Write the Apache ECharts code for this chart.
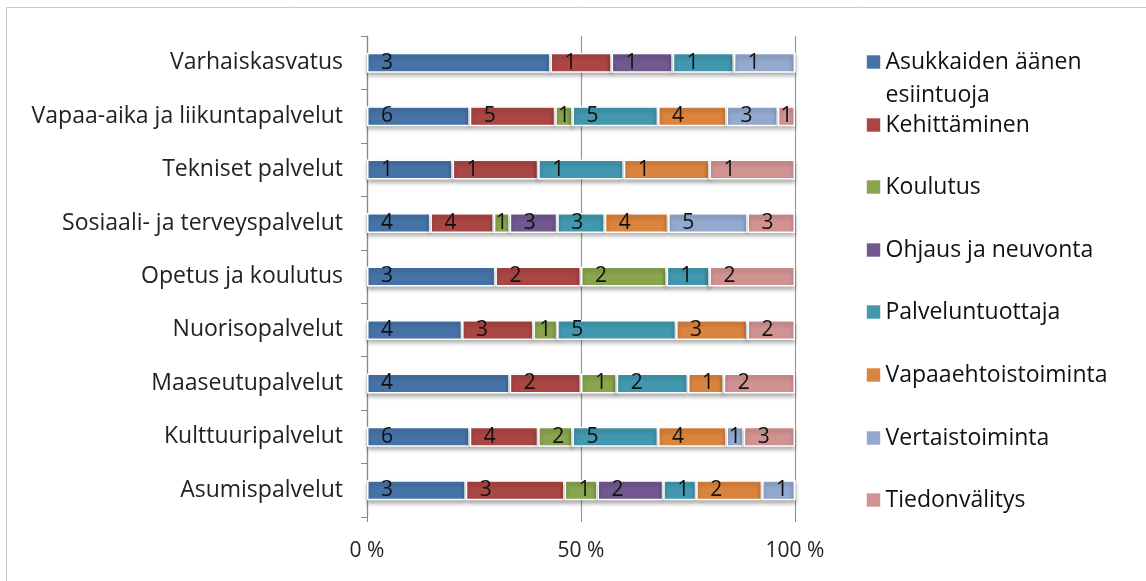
<!DOCTYPE html>
<html>
<head>
<meta charset="utf-8">
<script src="https://cdn.jsdelivr.net/npm/echarts@6/dist/echarts.min.js"></script>
<style>
html,body{margin:0;padding:0;background:#fff;}
#c{width:1146px;height:581px;}
</style>
</head>
<body>
<div id="c"></div>
<script>
// Categories, bottom to top
var categories = ['Asumispalvelut','Kulttuuripalvelut','Maaseutupalvelut','Nuorisopalvelut','Opetus ja koulutus','Sosiaali- ja terveyspalvelut','Tekniset palvelut','Vapaa-aika ja liikuntapalvelut','Varhaiskasvatus'];
var seriesNames = ['Asukkaiden äänen esiintuoja','Kehittäminen','Koulutus','Ohjaus ja neuvonta','Palveluntuottaja','Vapaaehtoistoiminta','Vertaistoiminta','Tiedonvälitys'];
// counts per series, aligned with categories
var asukkaiden   = [3,6,4,4,3,4,1,6,3];
var kehittaminen = [3,4,2,3,2,4,1,5,1];
var koulutus     = [1,2,1,1,2,1,0,1,0];
var ohjaus       = [2,0,0,0,0,3,0,0,1];
var palvelun     = [1,5,2,5,1,3,1,5,1];
var vapaaeht     = [2,4,1,3,0,4,1,4,0];
var vertais      = [1,1,0,0,0,5,0,3,1];
var tiedon       = [0,3,2,2,2,3,1,1,0];
var xTickLabels = ['0 %','50 %','100 %'];
var colors = ['#4673A7','#AA4644','#89A54E','#71588F','#4198AF','#DB843D','#93A9CF','#D19392'];

var counts = [asukkaiden,kehittaminen,koulutus,ohjaus,palvelun,vapaaeht,vertais,tiedon];
var totals = categories.map(function(_,i){var s=0;counts.forEach(function(a){s+=a[i];});return s;});

var FONT = 'Open Sans';
var FS = 21;     // numbers
var FT = 23;     // words
var series = counts.map(function(arr,k){
  return {
    name: seriesNames[k], type:'bar', stack:'all', barWidth:20,
    data: arr.map(function(v,i){
      var share = v/totals[i];
      var d = {value: share*100, count: v};
      if (share < 0.065) d.label = {position:'inside'};
      return d;
    }),
    itemStyle:{color:colors[k], borderColor:'#fff', borderWidth:1.5,
      shadowColor:'rgba(0,0,0,0.3)', shadowBlur:4, shadowOffsetY:3},
    label:{show:true, position:'insideLeft', distance:14, color:'#111', fontFamily:FONT, fontSize:FS,
      formatter:function(p){return p.data.count>0? String(p.data.count):'';}}
  };
});

var legendTops = [62,125,187,250,312,375,438,500];
var LH = 33;
var legends = seriesNames.map(function(n,k){
  var first = k===0;
  return {
    data:[n], left:866, top: first ? legendTops[k]-1.5*LH : legendTops[k]-LH/2, orient:'vertical',
    itemWidth:14, itemHeight:14, icon:'rect', selectedMode:false, padding:0,
    formatter: first ? function(){return '\nAsukkaiden äänen\nesiintuoja';} : undefined,
    textStyle:{fontFamily:FONT, fontSize:FT, color:'#111', lineHeight:LH},
    itemStyle:{borderColor:'rgba(255,255,255,0.6)', borderWidth:1}
  };
});

var chart = echarts.init(document.getElementById('c'));
chart.setOption({
  animation:false,
  graphic:[{type:'rect', shape:{x:6.5,y:7.5,width:1300,height:700}, style:{fill:'none', stroke:'#c8c8c8', lineWidth:1}, silent:true}],
  legend: legends,
  grid:{left:367, width:428, top:36, height:481, containLabel:false},
  xAxis:{type:'value', min:0, max:100, interval:50,
    axisLine:{show:false}, axisTick:{show:true, length:5, lineStyle:{color:'#888'}},
    splitLine:{show:true, lineStyle:{color:'#999', width:1.2}},
    axisLabel:{fontFamily:FONT, fontSize:FS, color:'#222', margin:24,
      formatter:function(v){return xTickLabels[v/50];}}},
  yAxis:{type:'category', data:categories,
    axisLine:{show:true, lineStyle:{color:'#888', width:1.2}},
    axisTick:{show:true, length:6, lineStyle:{color:'#888'}},
    axisLabel:{fontFamily:FONT, fontSize:FT, color:'#222', margin:24}},
  series: series
});
</script>
</body>
</html>
